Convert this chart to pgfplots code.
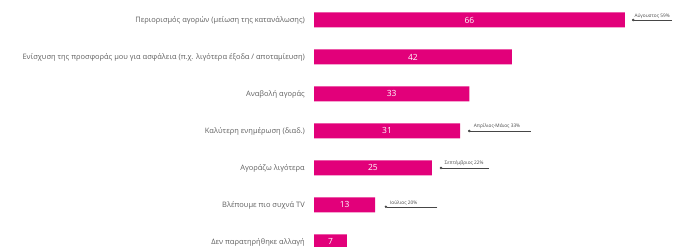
\documentclass[border=0pt]{standalone}
\usepackage{fontspec}
\setmainfont{Open Sans}
\usepackage{pgfplots}
\pgfplotsset{compat=1.18}
\usepackage{pgfplotstable}
\usetikzlibrary{arrows.meta}
\definecolor{mag}{RGB}{226,0,122}
\definecolor{lab}{RGB}{95,95,95}
\definecolor{ann}{RGB}{70,70,70}
\pgfplotstableread{
y v
6 66
5 42
4 33
3 31
2 25
1 13
0 7
}\data
\begin{document}
\begin{tikzpicture}[x=1bp,y=1bp]
\begin{axis}[
  at={(314bp,0bp)}, anchor=south west,
  scale only axis, width=358bp, height=246bp,
  xmin=0, xmax=76, ymin=-0.11, ymax=6.54,
  axis line style={draw=none},
  xtick=\empty,
  ytick={0,1,2,3,4,5,6},
  yticklabels={Δεν παρατηρήθηκε αλλαγή, Βλέπουμε πιο συχνά TV, Αγοράζω λιγότερα, Καλύτερη ενημέρωση (διαδ.), Αναβολή αγοράς, Ενίσχυση της προσφοράς μου για ασφάλεια (π.χ. λιγότερα έξοδα / αποταμίευση), Περιορισμός αγορών (μείωση της κατανάλωσης)},
  major tick length=0pt,
  yticklabel style={font=\fontsize{7.5}{8}\selectfont, text=lab, inner sep=0pt, xshift=-9bp},
  xbar, bar width=15bp, bar shift=0pt,
  /pgf/number format/assume math mode=true,
]
\addplot[fill=mag, draw=none] table[x=v, y=y] {\data};
\addplot[draw=none, mark=none, xbar=0pt, forget plot,
  nodes near coords, point meta=explicit,
  nodes near coords style={font=\fontsize{8.5}{9}\selectfont, text=white, anchor=center}]
  table[x expr=\thisrow{v}/2, y=y, meta=v] {\data};
% annotations
\draw[ann, line width=0.5pt, -{Circle[length=2.5pt]}] (76,6) -- (67.5,6);
\node[ann, font=\fontsize{4.8}{5}\selectfont, anchor=south west, inner sep=0.5pt] at (67.9,6.02) {Αύγουστος 59\%};
\draw[ann, line width=0.5pt, -{Circle[length=2.5pt]}] (46,3) -- (32.7,3);
\node[ann, font=\fontsize{4.8}{5}\selectfont, anchor=south west, inner sep=0.5pt] at (33.8,3.03) {Απρίλιος-Μάιος 33\%};
\draw[ann, line width=0.5pt, -{Circle[length=2.5pt]}] (37.2,2) -- (26.7,2);
\node[ann, font=\fontsize{4.8}{5}\selectfont, anchor=south west, inner sep=0.5pt] at (27.6,2.03) {Σεπτέμβριος 22\%};
\draw[ann, line width=0.5pt, -{Circle[length=2.5pt]}] (26.2,0.95) -- (15,0.95);
\node[ann, font=\fontsize{4.8}{5}\selectfont, anchor=south west, inner sep=0.5pt] at (16,0.98) {Ιούλιος 20\%};
\end{axis}
\pgfresetboundingbox
\path (0,0) rectangle (678,246);
\end{tikzpicture}
\end{document}
